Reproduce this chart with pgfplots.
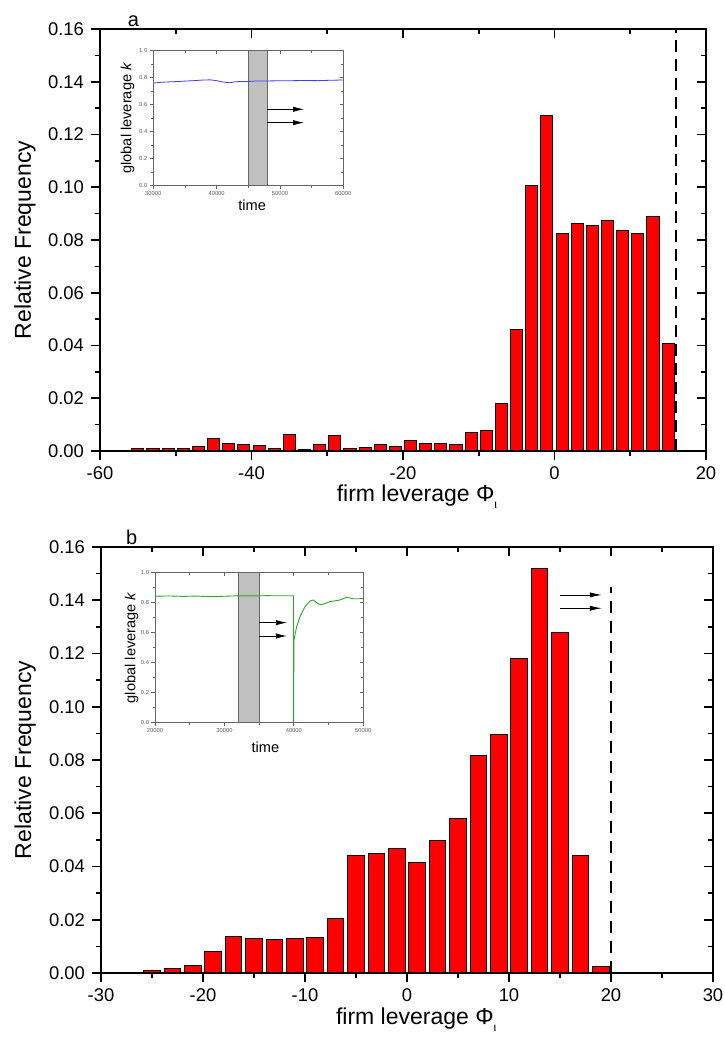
\documentclass[border=0pt]{standalone}
\usepackage{fontspec}
\setmainfont{Liberation Sans}
\usepackage{pgfplots}
\pgfplotsset{compat=1.18}
\usetikzlibrary{arrows.meta}

\definecolor{bandgray}{RGB}{192,192,192}
\definecolor{lineblue}{RGB}{60,60,255}
\definecolor{linegreen}{RGB}{40,170,40}

\pgfplotsset{
  base/.style={scale only axis, anchor=south west,
    /pgf/number format/assume math mode=true,
    /pgf/number format/set thousands separator={},
    scaled x ticks=false, scaled y ticks=false,
    axis line style={line width=0.8pt},
    tick style={line width=0.8pt, black},
    major tick length=4.5pt, minor tick length=2.3pt,
    tick label style={font=\fontsize{9.2}{11}\selectfont},
    label style={font=\fontsize{11.5}{13}\selectfont},
    ytick={0,0.02,0.04,0.06,0.08,0.10,0.12,0.14,0.16},
    minor y tick num=1, minor x tick num=1,
    ymin=0, ymax=0.16,
    yticklabel style={/pgf/number format/.cd, fixed, fixed zerofill, precision=2},
  },
  mainax/.style={base, tick pos=left, tick align=outside},
  mirror/.style={base, tick pos=right, tick align=inside, xticklabels={}, yticklabels={}},
  insetbase/.style={scale only axis, anchor=south west,
    /pgf/number format/assume math mode=true,
    /pgf/number format/set thousands separator={},
    scaled x ticks=false, scaled y ticks=false,
    axis line style={line width=0.4pt, black!60},
    tick style={line width=0.4pt, black!60},
    major tick length=1.8pt, minor tick length=1pt,
    tick label style={font=\fontsize{2.9}{3.2}\selectfont, text=black!65, inner sep=1pt},
    label style={font=\fontsize{7.3}{8}\selectfont},
    ymin=0, ymax=1, ytick={0,0.2,0.4,0.6,0.8,1.0},
    minor y tick num=1, minor x tick num=1,
    yticklabel style={/pgf/number format/.cd, fixed, fixed zerofill, precision=1},
  },
  insetax/.style={insetbase, tick pos=left, tick align=outside, axis background/.style={fill=white}},
  insetmirror/.style={insetbase, tick pos=right, tick align=inside, xticklabels={}, yticklabels={}},
}

\begin{document}
\begin{tikzpicture}
\path[use as bounding box] (0,0) rectangle (362pt,519.5pt);

% ---------------- Panel a ----------------
\begin{axis}[mainax, at={(50pt,294pt)}, width=303pt, height=211pt,
  xmin=-60, xmax=20, xtick={-60,-40,-20,0,20},
  ylabel={Relative Frequency},
  xlabel={firm leverage Φ\raisebox{-0.6ex}{\fontsize{6}{6}\selectfont ι}},
  ylabel style={at={(axis description cs:-0.124,0.5)}, anchor=center, rotate=0},
  xlabel style={at={(axis description cs:0.523,-0.109)}, anchor=center},
  clip=false]
\addplot[ybar, bar width=1.6, bar shift=0pt, fill=red, draw=black, line width=0.5pt] coordinates {
(-55,0.0008) (-53,0.0008) (-51,0.0008) (-49,0.0009) (-47,0.0016) (-45,0.0046)
(-43,0.0030) (-41,0.0023) (-39,0.0019) (-37,0.0010) (-35,0.0061) (-33,0.0004)
(-31,0.0023) (-29,0.0060) (-27,0.0009) (-25,0.0014) (-23,0.0024) (-21,0.0018)
(-19,0.0038) (-17,0.0029) (-15,0.0027) (-13,0.0023) (-11,0.0071) (-9,0.0077)
(-7,0.0180) (-5,0.0460) (-3,0.1006) (-1,0.1272) (1,0.0824) (3,0.0861)
(5,0.0854) (7,0.0875) (9,0.0835) (11,0.0823) (13,0.0889) (15,0.0406)
};
\addplot[black, line width=1pt, dash pattern=on 6pt off 3.5pt] coordinates {(16,0) (16,0.16)};
\node[anchor=south, font=\fontsize{10}{12}\selectfont, inner sep=1pt] at (rel axis cs:0.055,1) {a};
\end{axis}
\begin{axis}[mirror, at={(50pt,294pt)}, width=303pt, height=211pt,
  xmin=-60, xmax=20, xtick={-60,-40,-20,0,20}]
\end{axis}

% inset a
\begin{axis}[insetax, at={(76.65pt,426.65pt)}, width=95pt, height=67.5pt,
  xmin=30000, xmax=60000, xtick={30000,40000,50000,60000},
  xlabel={time}, ylabel={global leverage \textit{k}},
  ylabel style={at={(axis description cs:-0.135,0.5)}, anchor=center},
  xlabel style={at={(axis description cs:0.52,-0.143)}, anchor=center}]
\draw[fill=bandgray, draw=black!60, line width=0.4pt] (axis cs:45000,0) rectangle (axis cs:48000,1);
\addplot[lineblue, line width=0.4pt] coordinates {
(30000,0.760) (31000,0.765) (32000,0.768) (33000,0.770) (34000,0.772) (35000,0.775)
(36000,0.777) (37000,0.780) (38000,0.783) (39000,0.784) (40000,0.778) (41000,0.768)
(42000,0.763) (43000,0.770) (44000,0.772) (45000,0.772) (46000,0.775) (47000,0.776)
(48000,0.776) (50000,0.777) (52000,0.778) (54000,0.779) (56000,0.778) (58000,0.781) (60000,0.783)
};
\draw[line width=0.4pt, -{Latex[length=5.5pt,width=2.7pt]}] (axis cs:48000,0.566) -- (axis cs:53800,0.566);
\draw[line width=0.4pt, -{Latex[length=5.5pt,width=2.7pt]}] (axis cs:48000,0.467) -- (axis cs:53800,0.467);
\end{axis}
\begin{axis}[insetmirror, at={(76.65pt,426.65pt)}, width=95pt, height=67.5pt,
  xmin=30000, xmax=60000, xtick={30000,40000,50000,60000}]
\end{axis}

% ---------------- Panel b ----------------
\begin{axis}[mainax, at={(50.5pt,33pt)}, width=306pt, height=213pt,
  xmin=-30, xmax=30, xtick={-30,-20,-10,0,10,20,30},
  ylabel={Relative Frequency},
  xlabel={firm leverage Φ\raisebox{-0.6ex}{\fontsize{6}{6}\selectfont ι}},
  ylabel style={at={(axis description cs:-0.124,0.5)}, anchor=center},
  xlabel style={at={(axis description cs:0.515,-0.110)}, anchor=center},
  clip=false]
\addplot[ybar, bar width=1.64, bar shift=0pt, fill=red, draw=black, line width=0.5pt] coordinates {
(-27,0.0002) (-25,0.0009) (-23,0.0016) (-21,0.0030) (-19,0.0080) (-17,0.0136)
(-15,0.0128) (-13,0.0124) (-11,0.0129) (-9,0.0133) (-7,0.0206) (-5,0.0442)
(-3,0.0447) (-1,0.0468) (1,0.0414) (3,0.0497) (5,0.0581) (7,0.0818)
(9,0.0896) (11,0.1182) (13,0.1520) (15,0.1280) (17,0.0442) (19,0.0023)
};
\addplot[black, line width=1pt, dash pattern=on 6pt off 4pt] coordinates {(20,0) (20,0.145)};
\draw[line width=0.4pt, -{Latex[length=6pt,width=2.6pt]}] (axis cs:15.0,0.142) -- (axis cs:19.1,0.142);
\draw[line width=0.4pt, -{Latex[length=6pt,width=2.6pt]}] (axis cs:15.0,0.137) -- (axis cs:19.1,0.137);
\node[anchor=south, font=\fontsize{10}{12}\selectfont, inner sep=1pt] at (rel axis cs:0.05,1) {b};
\end{axis}
\begin{axis}[mirror, at={(50.5pt,33pt)}, width=306pt, height=213pt,
  xmin=-30, xmax=30, xtick={-30,-20,-10,0,10,20,30}]
\end{axis}

% inset b
\begin{axis}[insetax, at={(77.5pt,158.15pt)}, width=104.15pt, height=75pt,
  xmin=20000, xmax=50000, xtick={20000,30000,40000,50000},
  xlabel={time}, ylabel={global leverage \textit{k}},
  ylabel style={at={(axis description cs:-0.112,0.5)}, anchor=center},
  xlabel style={at={(axis description cs:0.53,-0.162)}, anchor=center}]
\draw[fill=bandgray, draw=black!60, line width=0.4pt] (axis cs:32000,0) rectangle (axis cs:35000,1);
\addplot[linegreen, line width=0.45pt] coordinates {
(20000,0.843) (22000,0.845) (24000,0.842) (26000,0.844) (28000,0.840) (30000,0.843)
(32000,0.846) (34000,0.845) (36000,0.847) (38000,0.846) (39950,0.846) (39960,0.0)
(40010,0.55) (40400,0.64) (40880,0.707) (41600,0.773) (42320,0.811) (42800,0.818)
(43280,0.800) (43760,0.787) (44240,0.790) (45200,0.807) (46640,0.818) (47600,0.836)
(48560,0.826) (50000,0.827)
};
\draw[line width=0.4pt, -{Latex[length=5.5pt,width=2.7pt]}] (axis cs:35000,0.667) -- (axis cs:39000,0.667);
\draw[line width=0.4pt, -{Latex[length=5.5pt,width=2.7pt]}] (axis cs:35000,0.578) -- (axis cs:39000,0.578);
\end{axis}
\begin{axis}[insetmirror, at={(77.5pt,158.15pt)}, width=104.15pt, height=75pt,
  xmin=20000, xmax=50000, xtick={20000,30000,40000,50000}]
\end{axis}
\end{tikzpicture}
\end{document}
